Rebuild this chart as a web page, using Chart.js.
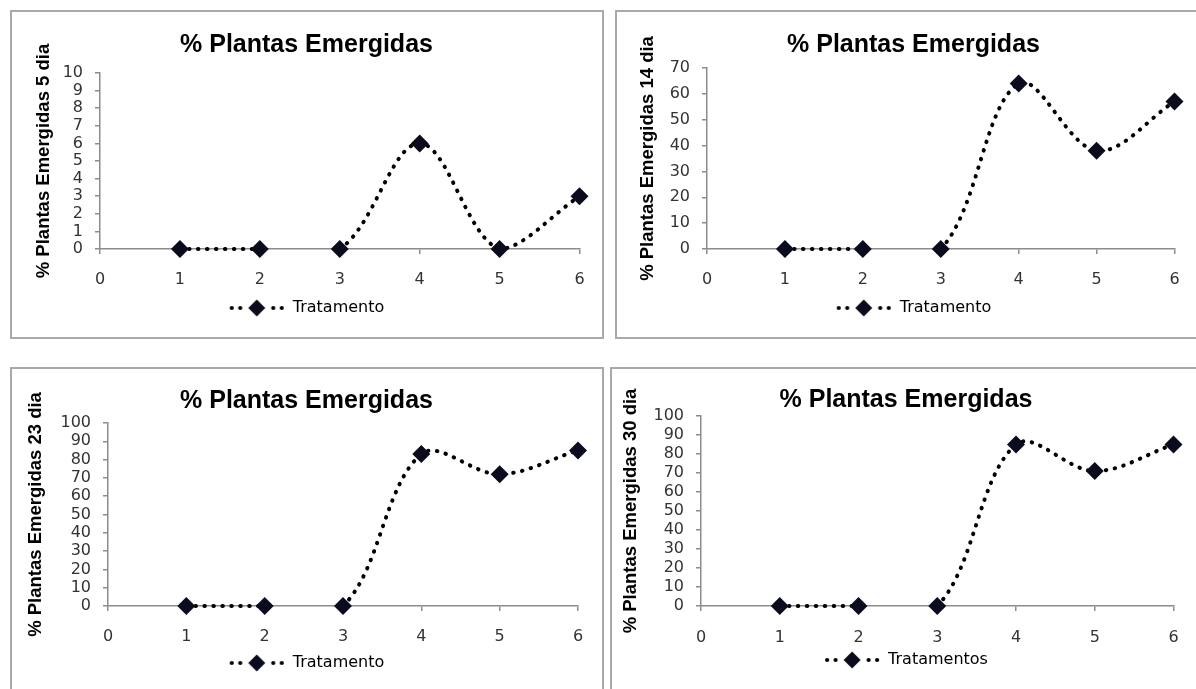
<!DOCTYPE html>
<html>
<head>
<meta charset="utf-8">
<script src="https://cdn.jsdelivr.net/npm/chart.js@4.4.1/dist/chart.umd.min.js"></script>
<style>
  body { margin: 0; background: #fff; width: 1196px; height: 689px; overflow: hidden; position: relative; }
  .painel { position: absolute; box-sizing: border-box; border: 2px solid #a9a9a9; }
  canvas { position: absolute; }
</style>
</head>
<body>
<div class="painel" style="left:10px;top:10px;width:594px;height:329px"></div>
<div class="painel" style="left:615px;top:10px;width:600px;height:329px"></div>
<div class="painel" style="left:10px;top:367px;width:594px;height:400px"></div>
<div class="painel" style="left:610px;top:367px;width:600px;height:400px"></div>
<canvas id="g5"></canvas>
<canvas id="g14"></canvas>
<canvas id="g23"></canvas>
<canvas id="g30"></canvas>
<script>
// dados
const tratamentos = [1, 2, 3, 4, 5, 6];
const dia5 = [0, 0, 0, 6, 0, 3];
const dia14 = [0, 0, 0, 64, 38, 57];
const dia23 = [0, 0, 0, 83, 72, 85];
const dia30 = [0, 0, 0, 85, 71, 85];
const tituloGrafico = "% Plantas Emergidas";

// posicoes de cada painel na pagina (caixa do canvas, area do grafico, titulo, etc)
let paineis = [
    { id: "g5", dados: dia5, yMax: 10, yPasso: 1, tituloY: "% Plantas Emergidas 5 dia", legenda: "Tratamento",
      caixa: [13, 13, 588, 323], area: [100, 581, 73, 249], titulo: [306.5, 45], yTit: 44, xLab: 280, leg: 308 },
    { id: "g14", dados: dia14, yMax: 70, yPasso: 10, tituloY: "% Plantas Emergidas 14 dia", legenda: "Tratamento",
      caixa: [618, 13, 578, 323], area: [707, 1184, 68, 249], titulo: [913.5, 45], yTit: 648, xLab: 280, leg: 308 },
    { id: "g23", dados: dia23, yMax: 100, yPasso: 10, tituloY: "% Plantas Emergidas 23 dia", legenda: "Tratamento",
      caixa: [13, 370, 588, 319], area: [108, 578, 423, 606], titulo: [306.5, 401], yTit: 36, xLab: 637, leg: 663 },
    { id: "g30", dados: dia30, yMax: 100, yPasso: 10, tituloY: "% Plantas Emergidas 30 dia", legenda: "Tratamentos",
      caixa: [613, 370, 583, 319], area: [701, 1182, 416, 606], titulo: [906, 400], yTit: 631, xLab: 638, leg: 660 }
];

const corEixo = "#8c8c8c";
const corPonto = "#0b0b1e";
const corTexto = "#333";
let fonteTituloY = 18.5;

// icone da legenda: pontinhos + losango
function iconeLegenda() {
    let c = document.createElement("canvas");
    c.width = 56;
    c.height = 20;
    let g = c.getContext("2d");
    g.fillStyle = "#000";
    [3, 11.5, 44.5, 53].forEach(function (x) {
        g.beginPath();
        g.arc(x, 10, 2.1, 0, Math.PI * 2);
        g.fill();
    });
    g.fillStyle = corPonto;
    g.beginPath();
    g.moveTo(28 - 8.5, 10);
    g.lineTo(28, 10 - 8.5);
    g.lineTo(28 + 8.5, 10);
    g.lineTo(28, 10 + 8.5);
    g.closePath();
    g.fill();
    return c;
}

function desenha(p) {
    let cv = document.getElementById(p.id);
    let cl = p.caixa[0], ct = p.caixa[1], cw = p.caixa[2], ch = p.caixa[3];
    cv.width = cw;
    cv.height = ch;
    cv.style.left = cl + "px";
    cv.style.top = ct + "px";
    cv.style.width = cw + "px";
    cv.style.height = ch + "px";

    let aL = p.area[0] - cl, aR = p.area[1] - cl, aT = p.area[2] - ct, aB = p.area[3] - ct;
    let padR = cw - aR;
    let padL = 2 * (p.titulo[0] - cl) - aR;
    let larguraY = aL - padL;
    let tituloLH = 25 * 1.2;
    let tPadTop = p.titulo[1] - ct - tituloLH / 2;
    let tPadBot = aT - tPadTop - tituloLH;
    let yTitPad = p.yTit - cl - padL - fonteTituloY * 1.2 / 2;
    let legPad = 4, legFonte = 16;
    let alturaX = (p.leg - ct) - legPad - legFonte / 2 - aB;
    let padB = ch - aB - alturaX - (legFonte + legPad + 10);
    let xPad = p.xLab - p.area[3] - 5 - 16 * 1.2 / 2;

    let pontos = [];
    for (let i = 0; i < tratamentos.length; i++) {
        pontos.push({ x: tratamentos[i], y: p.dados[i] });
    }
    let icone = iconeLegenda();

    new Chart(cv, {
        type: "line",
        data: {
            datasets: [{
                label: p.legenda,
                data: pontos,
                borderColor: "#000",
                borderWidth: 4,
                borderDash: [0.5, 8.5],
                borderCapStyle: "round",
                tension: 0.35,
                fill: false,
                clip: false,
                pointStyle: "rectRot",
                pointRadius: 9,
                pointBackgroundColor: corPonto,
                pointBorderColor: corPonto,
                pointBorderWidth: 0,
                segment: {
                    borderColor: ctx => ctx.p0DataIndex === 1 ? "rgba(0,0,0,0)" : undefined
                }
            }]
        },
        options: {
            responsive: false,
            animation: false,
            events: [],
            layout: { padding: { left: padL, right: padR, top: 0, bottom: padB } },
            plugins: {
                tooltip: { enabled: false },
                title: {
                    display: true,
                    text: tituloGrafico,
                    color: "#000",
                    font: { family: "Liberation Sans", weight: "bold", size: 25, lineHeight: 1.2 },
                    padding: { top: tPadTop, bottom: tPadBot }
                },
                legend: {
                    position: "bottom",
                    labels: {
                        usePointStyle: true,
                        pointStyleWidth: 56,
                        padding: legPad,
                        color: corTexto,
                        font: { family: "DejaVu Sans", size: legFonte },
                        generateLabels: () => [{
                            text: p.legenda,
                            pointStyle: icone,
                            fillStyle: "#000",
                            strokeStyle: "#000",
                            lineWidth: 0,
                            hidden: false,
                            datasetIndex: 0
                        }]
                    }
                }
            },
            scales: {
                x: {
                    type: "linear",
                    min: 0,
                    max: 6,
                    afterFit: s => { s.height = alturaX; },
                    ticks: {
                        stepSize: 1,
                        padding: xPad,
                        color: corTexto,
                        font: { family: "DejaVu Sans", size: 16 }
                    },
                    grid: { drawOnChartArea: false, drawTicks: true, tickLength: 5, color: corEixo, lineWidth: 1.5 },
                    border: { color: corEixo, width: 1.5 }
                },
                y: {
                    min: 0,
                    max: p.yMax,
                    afterFit: s => { s.width = larguraY; },
                    ticks: {
                        stepSize: p.yPasso,
                        autoSkip: false,
                        padding: 12,
                        color: corTexto,
                        font: { family: "DejaVu Sans", size: 16 }
                    },
                    grid: { drawOnChartArea: false, drawTicks: true, tickLength: 5, color: corEixo, lineWidth: 1.5 },
                    border: { color: corEixo, width: 1.5 },
                    title: {
                        display: true,
                        text: p.tituloY,
                        color: "#000",
                        font: { family: "Liberation Sans", weight: "bold", size: fonteTituloY, lineHeight: 1.2 },
                        padding: { top: yTitPad, bottom: 0 }
                    }
                }
            }
        }
    });
}

for (let i = 0; i < paineis.length; i++) {
    desenha(paineis[i]);
}
</script>
</body>
</html>
